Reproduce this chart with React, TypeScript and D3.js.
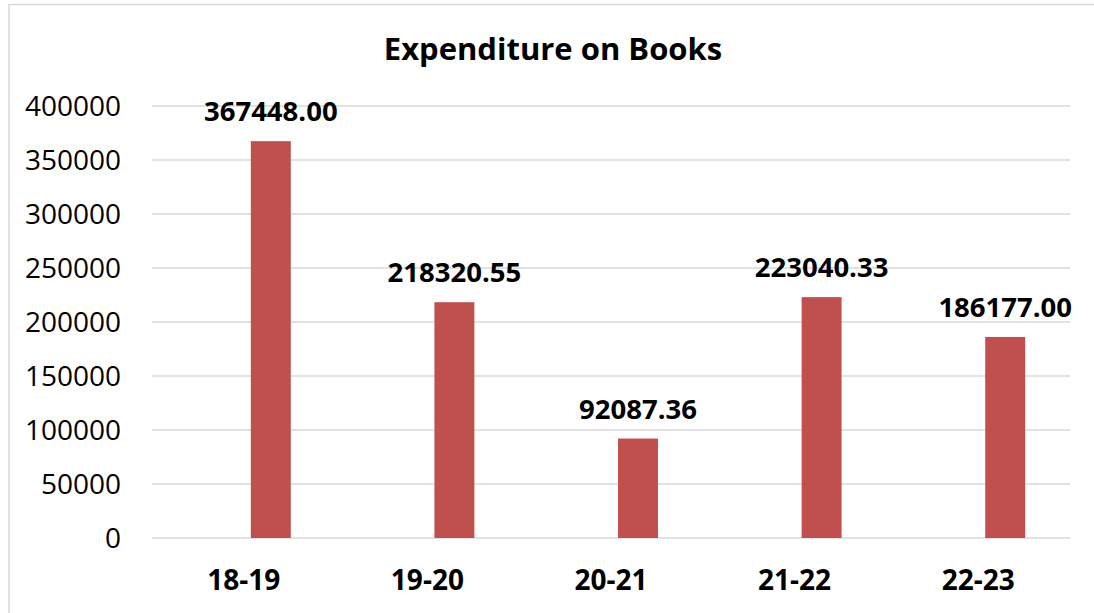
import * as d3 from 'd3';
import React from 'react';

const years = ['18-19', '19-20', '20-21', '21-22', '22-23'];
const expenditure = [367448.0, 218320.55, 92087.36, 223040.33, 186177.0];
const yTicks = [0, 50000, 100000, 150000, 200000, 250000, 300000, 350000, 400000];
const seriesNames = ['blank', 'Expenditure'];

const W = 1094;
const H = 613;
const margin = { top: 106, right: 24, bottom: 75, left: 152 };
const font = "'Open Sans', sans-serif";

const App: React.FC = () => {
  const x = d3
    .scaleBand()
    .domain(years)
    .range([margin.left, W - margin.right])
    .padding(0);

  // Excel reserves a slot for an empty first series, so bars sit right of centre
  const xSub = d3
    .scaleBand()
    .domain(seriesNames)
    .range([0, x.bandwidth()])
    .paddingInner(0.26)
    .paddingOuter(0.83);

  const y = d3
    .scaleLinear()
    .domain([0, 400000])
    .range([H - margin.bottom, margin.top]);

  return (
    <div style={{ position: 'absolute', left: 0, top: 0 }}>
      <svg width={W} height={H} style={{ display: 'block', background: 'white' }}>
        <path
          d={`M9,${H + 2}V4.5H${W + 2}`}
          fill='none'
          stroke='#d9d9d9'
          strokeWidth={1.5}
        />
        <text
          x={553}
          y={60}
          textAnchor='middle'
          fontFamily={font}
          fontWeight='bold'
          fontSize={31}
          fill='#000'
        >
          Expenditure on Books
        </text>
        <g>
          {yTicks.map((t) => (
            <g key={t}>
              <line
                x1={margin.left}
                x2={W - margin.right}
                y1={y(t)}
                y2={y(t)}
                stroke='#d9d9d9'
                strokeWidth={1.5}
              />
              <text
                x={121}
                y={y(t)}
                dy='0.36em'
                textAnchor='end'
                fontFamily={font}
                fontSize={28}
                fill='#000'
              >
                {t}
              </text>
            </g>
          ))}
        </g>
        <g>
          {years.map((yr, i) => {
            const bx = (x(yr) as number) + (xSub('Expenditure') as number);
            const bw = xSub.bandwidth();
            return (
              <g key={yr}>
                <rect
                  x={bx}
                  y={y(expenditure[i])}
                  width={bw}
                  height={y(0) - y(expenditure[i])}
                  fill='#c0504d'
                />
                <text
                  x={bx + bw / 2}
                  y={y(expenditure[i]) - 20}
                  textAnchor='middle'
                  fontFamily={font}
                  fontWeight='bold'
                  fontSize={27.5}
                  fill='#000'
                >
                  {expenditure[i].toFixed(2)}
                </text>
                <text
                  x={(x(yr) as number) + x.bandwidth() / 2}
                  y={590}
                  textAnchor='middle'
                  fontFamily={font}
                  fontWeight='bold'
                  fontSize={28}
                  fill='#000'
                >
                  {yr}
                </text>
              </g>
            );
          })}
        </g>
      </svg>
    </div>
  );
};

export default App;
